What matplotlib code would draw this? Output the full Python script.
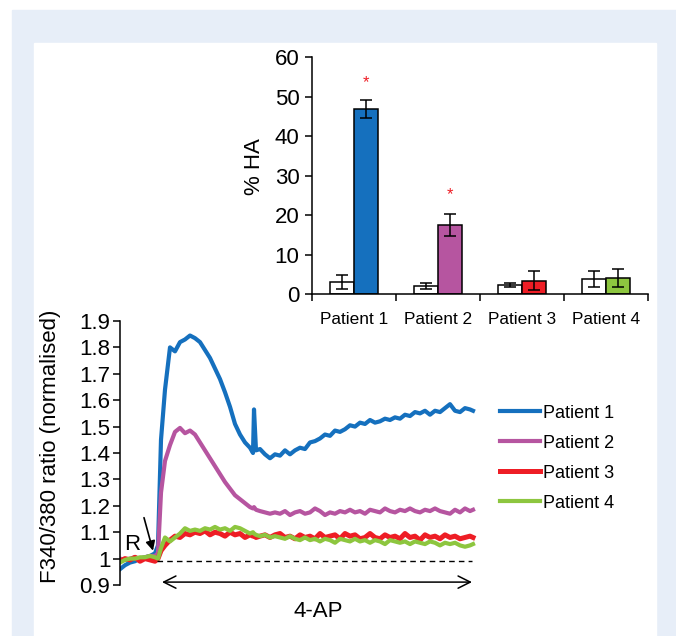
import matplotlib
matplotlib.use("Agg")
import matplotlib.pyplot as plt
from matplotlib.patches import Rectangle

plt.rcParams["font.family"] = ["Liberation Sans", "DejaVu Sans"]

W, H = 676, 636

# bar chart data (% HA)
patients = ["Patient 1", "Patient 2", "Patient 3", "Patient 4"]
ctrl_vals = [3.0, 2.0, 2.3, 3.8]
ctrl_err = [1.8, 0.7, 0.4, 2.0]
treat_vals = [47.0, 17.5, 3.4, 4.1]
treat_err = [2.3, 2.8, 2.5, 2.2]
star_pos = [53.5, 25.3, None, None]
colors = ["#1570be", "#b655a0", "#ee1d25", "#8dc63f"]

# calcium traces (F340/380, normalised)
t = [0, 5, 10, 15, 20, 25, 30, 35, 38, 41, 45, 50, 55, 60, 65, 70, 75, 80, 85,
     90, 95, 100, 105, 110, 115, 120, 125, 130, 133, 134, 136, 140, 145, 150,
     155, 160, 165, 170, 175, 180, 185, 190, 195, 200, 205, 210, 215, 220, 225,
     230, 235, 240, 245, 250, 255, 260, 265, 270, 275, 280, 285, 290, 295, 300,
     305, 310, 315, 320, 325, 330, 335, 340, 345, 350, 353]
p1 = [0.96, 0.975, 0.985, 0.99, 1.0, 1.005, 1.01, 1.02, 1.05, 1.45, 1.64, 1.80,
      1.785, 1.82, 1.83, 1.845, 1.835, 1.82, 1.79, 1.76, 1.72, 1.68, 1.63,
      1.575, 1.51, 1.47, 1.44, 1.42, 1.40, 1.565, 1.41, 1.415, 1.395, 1.38,
      1.395, 1.39, 1.41, 1.395, 1.41, 1.42, 1.415, 1.44, 1.445, 1.455, 1.47,
      1.465, 1.485, 1.48, 1.49, 1.505, 1.50, 1.515, 1.51, 1.525, 1.515, 1.52,
      1.53, 1.525, 1.535, 1.53, 1.545, 1.54, 1.555, 1.55, 1.56, 1.545, 1.56,
      1.555, 1.57, 1.585, 1.56, 1.555, 1.57, 1.565, 1.56]
p2 = [1.0, 0.995, 1.0, 1.005, 1.0, 1.005, 1.01, 1.01, 1.02, 1.25, 1.37, 1.43,
      1.48, 1.495, 1.475, 1.485, 1.47, 1.44, 1.41, 1.38, 1.35, 1.32, 1.29,
      1.265, 1.24, 1.225, 1.21, 1.195, 1.19, 1.195, 1.185, 1.18, 1.175, 1.17,
      1.175, 1.17, 1.18, 1.165, 1.175, 1.18, 1.17, 1.175, 1.19, 1.18, 1.165,
      1.175, 1.17, 1.18, 1.175, 1.185, 1.175, 1.18, 1.17, 1.185, 1.18, 1.175,
      1.19, 1.18, 1.175, 1.185, 1.18, 1.19, 1.18, 1.175, 1.185, 1.18, 1.19,
      1.18, 1.175, 1.17, 1.185, 1.175, 1.19, 1.18, 1.185]
p3 = [0.99, 1.0, 0.995, 1.005, 0.99, 1.0, 0.995, 0.99, 1.0, 1.03, 1.05, 1.07,
      1.085, 1.08, 1.095, 1.09, 1.10, 1.095, 1.105, 1.09, 1.10, 1.095, 1.085,
      1.10, 1.09, 1.095, 1.08, 1.09, 1.085, 1.09, 1.08, 1.085, 1.09, 1.08,
      1.09, 1.095, 1.08, 1.085, 1.075, 1.09, 1.08, 1.085, 1.075, 1.095, 1.08,
      1.085, 1.09, 1.075, 1.095, 1.085, 1.09, 1.075, 1.08, 1.095, 1.08, 1.075,
      1.09, 1.08, 1.085, 1.075, 1.095, 1.08, 1.085, 1.07, 1.09, 1.08, 1.085,
      1.075, 1.09, 1.08, 1.085, 1.075, 1.08, 1.085, 1.08]
p4 = [0.985, 0.995, 1.0, 1.0, 1.005, 1.005, 1.01, 1.005, 1.0, 1.04, 1.08,
      1.065, 1.08, 1.095, 1.115, 1.105, 1.11, 1.105, 1.115, 1.11, 1.12, 1.11,
      1.115, 1.105, 1.12, 1.115, 1.105, 1.095, 1.1, 1.095, 1.09, 1.085, 1.09,
      1.08, 1.085, 1.08, 1.075, 1.085, 1.075, 1.07, 1.08, 1.07, 1.075, 1.065,
      1.075, 1.07, 1.06, 1.075, 1.07, 1.065, 1.075, 1.065, 1.07, 1.06, 1.07,
      1.065, 1.055, 1.07, 1.065, 1.06, 1.065, 1.055, 1.065, 1.06, 1.055, 1.065,
      1.06, 1.05, 1.06, 1.055, 1.06, 1.05, 1.045, 1.05, 1.055]
traces = [p1, p2, p3, p4]
trace_lw = [3.0, 3.0, 3.6, 3.0]

fig = plt.figure(figsize=(W / 100, H / 100), dpi=100)
fig.patches.append(Rectangle((12 / W, 0), (W - 12) / W, (H - 10) / H,
                             transform=fig.transFigure, color="#e7eef8", zorder=-2))
fig.patches.append(Rectangle((34 / W, 0), (656 - 34) / W, (H - 43) / H,
                             transform=fig.transFigure, color="white", zorder=-1))

# ---- bar chart ----
axb = fig.add_axes([312 / W, (H - 294) / H, 336 / W, (294 - 57.3) / H])
axb.patch.set_visible(False)
x = list(range(len(patients)))
bw = 0.29
axb.bar([i - bw / 2 for i in x], ctrl_vals, bw, color="white", edgecolor="black",
        linewidth=1.1, yerr=ctrl_err, capsize=4,
        error_kw=dict(elinewidth=1.1, capthick=1.1))
axb.bar([i + bw / 2 for i in x], treat_vals, bw, color=colors, edgecolor="black",
        linewidth=1.1, yerr=treat_err, capsize=4,
        error_kw=dict(elinewidth=1.1, capthick=1.1))
for i, s in enumerate(star_pos):
    if s is not None:
        axb.text(i + bw / 2, s, "*", color="#ee1d25", fontsize=12, ha="center", va="center")
axb.set_xlim(-0.5, 3.5)
axb.set_ylim(0, 60)
axb.set_yticks(range(0, 61, 10))
axb.set_xticks(x)
axb.set_xticklabels(patients, fontsize=12.4)
axb.set_xticks([-0.5, 0.5, 1.5, 2.5, 3.5], minor=True)
axb.tick_params(axis="x", which="major", length=0, pad=13)
axb.tick_params(axis="x", which="minor", length=5, width=1.1, direction="out")
axb.tick_params(axis="y", labelsize=16, length=5, width=1.1, pad=4)
for side in ["top", "right"]:
    axb.spines[side].set_visible(False)
for side in ["left", "bottom"]:
    axb.spines[side].set_linewidth(1.1)
axb.set_ylabel("% HA", fontsize=16)
axb.yaxis.set_label_coords(-0.14, 0.537)

# ---- trace chart ----
axl = fig.add_axes([120 / W, (H - 585) / H, 360 / W, 264 / H])
axl.patch.set_visible(False)
for y, c, lw, name in zip(traces, colors, trace_lw, patients):
    axl.plot(t, y, color=c, lw=lw, label=name, solid_joinstyle="round")
axl.set_xlim(0, 360)
axl.set_ylim(0.9, 1.9)
axl.set_yticks([0.9, 1.0, 1.1, 1.2, 1.3, 1.4, 1.5, 1.6, 1.7, 1.8, 1.9])
axl.set_yticklabels(["0.9", "1", "1.1", "1.2", "1.3", "1.4", "1.5", "1.6", "1.7", "1.8", "1.9"])
axl.tick_params(axis="y", labelsize=16, length=5, width=1.1, pad=2)
axl.set_xticks([])
for side in ["top", "right", "bottom"]:
    axl.spines[side].set_visible(False)
axl.spines["left"].set_linewidth(1.1)
axl.set_ylabel("F340/380 ratio (normalised)", fontsize=16)
axl.yaxis.set_label_coords(-0.163, 0.527)

axl.plot([37, 352], [0.992, 0.992], color="black", lw=1.0, ls=(0, (4, 3)))
axl.annotate("", xy=(42, 0.911), xytext=(352, 0.911),
             arrowprops=dict(arrowstyle="<->", color="black", lw=1.1,
                             mutation_scale=22, shrinkA=0, shrinkB=0))
axl.text(198, 0.80, "4-AP", fontsize=16, ha="center", va="center", clip_on=False)
axl.text(12, 1.055, "R", fontsize=16, ha="center", va="center")
axl.annotate("", xy=(33, 1.03), xytext=(24, 1.155),
             arrowprops=dict(arrowstyle="-|>", color="black", lw=1.2,
                             mutation_scale=14, shrinkA=0, shrinkB=0))

axl.legend(loc="center left", bbox_to_anchor=(500 / W, (H - 458) / H),
           bbox_transform=fig.transFigure, frameon=False, fontsize=13,
           handlelength=2.2, handletextpad=0.2, labelspacing=0.72, borderpad=0,
           borderaxespad=0)

fig.savefig("out.png", dpi=100)
